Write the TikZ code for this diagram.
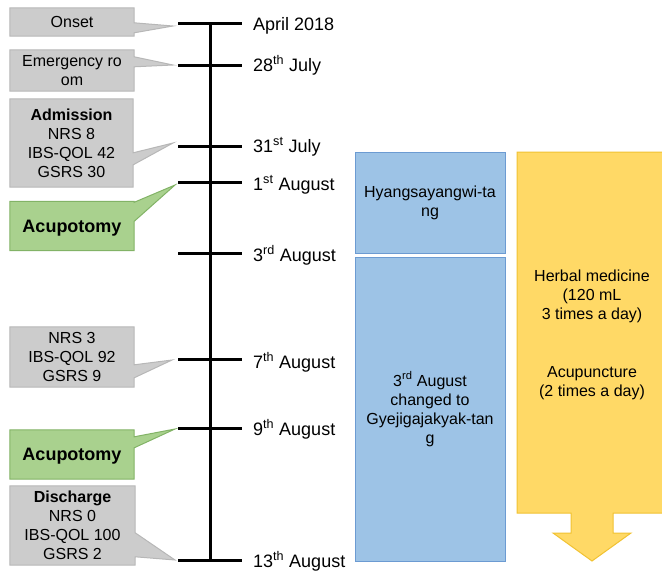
\documentclass[tikz,border=0pt]{standalone}
\usepackage{fontspec}
\setmainfont{Liberation Sans}
\usetikzlibrary{backgrounds,calc}
\definecolor{grayfill}{HTML}{CCCCCC}
\definecolor{grayline}{HTML}{B7B7B7}
\definecolor{greenfill}{HTML}{A9D18E}
\definecolor{greenline}{HTML}{82B366}
\definecolor{bluefill}{HTML}{9DC3E6}
\definecolor{blueline}{HTML}{6C9BD2}
\definecolor{yellowfill}{HTML}{FFD966}
\definecolor{yellowline}{HTML}{F1C232}
\begin{document}
\begin{tikzpicture}[x=1pt,y=-1pt,
  txt/.style={inner sep=0pt,align=center,font=\fontsize{16}{19}\selectfont},
  bigtxt/.style={inner sep=0pt,align=center,text depth=0pt,font=\bfseries\fontsize{18}{21}\selectfont},
  datetxt/.style={inner sep=0pt,anchor=base west,font=\fontsize{18}{21}\selectfont},
  graycall/.style={fill=grayfill,draw=grayline,line width=1pt},
  greencall/.style={fill=greenfill,draw=greenline,line width=1pt},
  bluebox/.style={fill=bluefill,draw=blueline,line width=1pt,minimum width=150pt,inner sep=0pt,align=center,font=\fontsize{16}{19}\selectfont},
  tickline/.style={line width=3pt},
  axisline/.style={line width=3pt}]
\useasboundingbox (0,0) rectangle (662,571);
\clip (0,0) rectangle (662,571);

% timeline
\coordinate (top) at (210,23);
\coordinate (bot) at (210,561);
\draw[axisline] (top) -- (bot);
\foreach \n/\y in {a/23,b/65,c/146,d/182,e/253,f/359,g/428,h/560} {
  \coordinate (L\n) at (178,\y);
  \coordinate (R\n) at (242,\y);
  \draw[tickline] (L\n) -- (R\n);
}

% dates
\node[datetxt] (da) at (253,30) {April 2018};
\node[datetxt] (db) at (253,71) {28\textsuperscript{th} July};
\node[datetxt] (dc) at (253,152) {31\textsuperscript{st} July};
\node[datetxt] (dd) at (253,190) {1\textsuperscript{st} August};
\node[datetxt] (de) at (253,261) {3\textsuperscript{rd} August};
\node[datetxt] (df) at (253,368) {7\textsuperscript{th} August};
\node[datetxt] (dg) at (253,435) {9\textsuperscript{th} August};
\node[datetxt] (dh) at (253,567) {13\textsuperscript{th} August};

% callout boxes
\node[txt,minimum width=124pt,minimum height=28pt] (on) at (72,22) {Onset};
\node[txt,minimum width=124pt,minimum height=41pt] (er) at (72,70.5) {Emergency ro\\om};
\node[txt,minimum width=123pt,minimum height=88pt] (ad) at (71.5,143) {\textbf{Admission}\\NRS 8\\IBS-QOL 42\\GSRS 30};
\node[bigtxt,minimum width=124pt,minimum height=49pt] (ac1) at (72,226) {Acupotomy};
\node[txt,minimum width=124pt,minimum height=60pt] (mid) at (72,357) {NRS 3\\IBS-QOL 92\\GSRS 9};
\node[bigtxt,minimum width=124pt,minimum height=49pt] (ac2) at (72,454.5) {Acupotomy};
\node[txt,minimum width=125pt,minimum height=79pt] (dis) at (72.5,525.5) {\textbf{Discharge}\\NRS 0\\IBS-QOL 100\\GSRS 2};

\coordinate (ton) at (173,26);
\coordinate (ter) at (173,65);
\coordinate (tad) at (173,143);
\coordinate (tac1) at (175,185);
\coordinate (tmid) at (172,360);
\coordinate (tac2) at (175,429);
\coordinate (tdis) at (175,560);

\begin{scope}[on background layer]
\draw[graycall] (on.north west) -- (on.north east) -- ($(on.north east)+(0,15)$) -- (ton) -- ($(on.north east)+(0,25)$) -- (on.south east) -- (on.south west) -- cycle;
\draw[graycall] (er.north west) -- (er.north east) -- ($(er.north east)+(0,7)$) -- (ter) -- ($(er.north east)+(0,17)$) -- (er.south east) -- (er.south west) -- cycle;
\draw[graycall] (ad.north west) -- (ad.north east) -- ($(ad.north east)+(0,54)$) -- (tad) -- ($(ad.north east)+(0,66)$) -- (ad.south east) -- (ad.south west) -- cycle;
\draw[greencall] (ac1.north west) -- (ac1.north east) -- ($(ac1.north east)+(0,1)$) -- (tac1) -- ($(ac1.north east)+(0,20)$) -- (ac1.south east) -- (ac1.south west) -- cycle;
\draw[graycall] (mid.north west) -- (mid.north east) -- ($(mid.north east)+(0,38)$) -- (tmid) -- ($(mid.north east)+(0,51)$) -- (mid.south east) -- (mid.south west) -- cycle;
\draw[greencall] (ac2.north west) -- (ac2.north east) -- ($(ac2.north east)+(0,7)$) -- (tac2) -- ($(ac2.north east)+(0,18)$) -- (ac2.south east) -- (ac2.south west) -- cycle;
\draw[graycall] (dis.north west) -- (dis.north east) -- ($(dis.north east)+(0,47)$) -- (tdis) -- ($(dis.north east)+(0,71)$) -- (dis.south east) -- (dis.south west) -- cycle;
\end{scope}

% blue boxes
\node[bluebox,minimum height=101pt] (b1) at (430,202.5) {Hyangsayangwi-ta\\ng};
\node[bluebox,minimum height=304pt] (b2) at (430,409) {3\textsuperscript{rd} August\\changed to\\Gyejigajakyak-tan\\g};

% yellow arrow
\draw[fill=yellowfill,draw=yellowline,line width=1pt]
  (517,152) -- (667,152) -- (667,513) -- (613,513) -- (613,533) -- (631,533)
  -- (592,561) -- (553,533) -- (571,533) -- (571,513) -- (517,513) -- cycle;
\node[txt] (y1) at (592,296) {Herbal medicine\\(120 mL\\3 times a day)};
\node[txt] (y2) at (592,383) {Acupuncture\\(2 times a day)};
\end{tikzpicture}
\end{document}
